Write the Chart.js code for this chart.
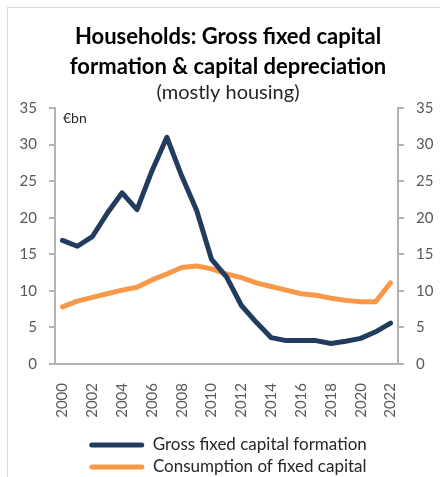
<!DOCTYPE html>
<html>
<head>
<meta charset="utf-8">
<script src="https://cdn.jsdelivr.net/npm/chart.js@4/dist/chart.umd.min.js"></script>
<style>
  html, body { margin: 0; padding: 0; background: #ffffff; }
  #wrap { position: relative; width: 440px; height: 477px; }
</style>
</head>
<body>
<div id="wrap"><canvas id="chart" width="440" height="477"></canvas></div>
<script>
// Households: gross fixed capital formation vs consumption of fixed capital, €bn
const years = ['2000','2001','2002','2003','2004','2005','2006','2007','2008','2009','2010','2011',
               '2012','2013','2014','2015','2016','2017','2018','2019','2020','2021','2022'];
const grossFixedCapitalFormation = [16.9, 16.1, 17.4, 20.6, 23.4, 21.1, 26.4, 31.0, 25.7, 21.0, 14.3, 11.9,
                                    8.0, 5.7, 3.6, 3.2, 3.2, 3.2, 2.8, 3.1, 3.5, 4.4, 5.6];
const consumptionOfFixedCapital = [7.8, 8.6, 9.1, 9.6, 10.1, 10.5, 11.5, 12.3, 13.2, 13.4, 13.0, 12.3,
                                   11.8, 11.1, 10.6, 10.1, 9.6, 9.4, 9.0, 8.7, 8.5, 8.5, 11.1];
const yTicks = [0, 5, 10, 15, 20, 25, 30, 35];

const FONT = "Lato, 'Open Sans', sans-serif";
const NAVY = '#213C5E';
const ORANGE = '#F89848';
const AXIS = '#B3B3B3';
const TICK_TEXT = '#595959';
const PAD_LEFT = 16;

// outer frame and unit label
const framePlugin = {
  id: 'frame',
  beforeDraw(chart) {
    const ctx = chart.ctx;
    ctx.save();
    ctx.fillStyle = '#ffffff';
    ctx.fillRect(0, 0, chart.width, chart.height);
    ctx.strokeStyle = '#D9D9D9';
    ctx.lineWidth = 1;
    ctx.strokeRect(7.5, 7.5, chart.width, chart.height);
    ctx.restore();
  },
  afterDraw(chart) {
    const ctx = chart.ctx;
    const a = chart.chartArea;
    ctx.save();
    ctx.font = `14px ${FONT}`;
    ctx.fillStyle = '#262626';
    ctx.textBaseline = 'middle';
    ctx.textAlign = 'left';
    ctx.fillText('€bn', a.left + 8, a.top + 10);
    ctx.restore();
  }
};

const yScale = (position) => ({
  type: 'linear',
  position,
  min: 0,
  max: 35,
  afterBuildTicks(scale) { scale.ticks = yTicks.map(v => ({ value: v })); },
  afterFit(scale) { scale.width = position === 'left' ? 55 - PAD_LEFT : 42; },
  border: { display: true, color: AXIS, width: 2 },
  grid: { display: true, drawOnChartArea: false, drawTicks: true, tickLength: 6, color: AXIS, lineWidth: 2 },
  ticks: { color: TICK_TEXT, font: { family: FONT, size: 15 }, padding: 12 }
});

new Chart(document.getElementById('chart'), {
  type: 'line',
  data: {
    labels: years,
    datasets: [
      {
        label: 'Gross fixed capital formation',
        data: grossFixedCapitalFormation,
        borderColor: NAVY,
        backgroundColor: NAVY,
        borderWidth: 5,
        pointRadius: 0,
        tension: 0,
        borderJoinStyle: 'round',
        borderCapStyle: 'round',
        yAxisID: 'y'
      },
      {
        label: 'Consumption of fixed capital',
        data: consumptionOfFixedCapital,
        borderColor: ORANGE,
        backgroundColor: ORANGE,
        borderWidth: 5,
        pointRadius: 0,
        tension: 0,
        borderJoinStyle: 'round',
        borderCapStyle: 'round',
        yAxisID: 'y'
      }
    ]
  },
  options: {
    responsive: false,
    animation: false,
    devicePixelRatio: 1,
    layout: { padding: { left: PAD_LEFT, right: 0, top: 0, bottom: 0 } },
    scales: {
      x: {
        type: 'category',
        offset: true,
        afterFit(scale) { scale.height = 67.5; },
        border: { display: true, color: AXIS, width: 2 },
        grid: { display: false, drawTicks: false },
        ticks: {
          autoSkip: false,
          minRotation: 90,
          maxRotation: 90,
          padding: 19,
          color: TICK_TEXT,
          font: { family: FONT, size: 15 },
          callback(value, index) { return index % 2 === 0 ? years[index] : ''; }
        }
      },
      y: yScale('left'),
      y2: yScale('right')
    },
    plugins: {
      title: {
        display: true,
        text: ['Households: Gross fixed capital', 'formation & capital depreciation'],
        color: '#000000',
        font: { family: FONT, size: 22, weight: 'bold', lineHeight: 30 / 22 },
        padding: { top: 22, bottom: 0 }
      },
      subtitle: {
        display: true,
        text: '(mostly housing)',
        color: '#262626',
        font: { family: FONT, size: 20, weight: 'normal', lineHeight: 21.6 / 20 },
        padding: { top: 0, bottom: 4.4 }
      },
      legend: {
        position: 'bottom',
        maxHeight: 45.5,
        labels: {
          color: '#262626',
          font: { family: FONT, size: 17 },
          boxWidth: 55,
          boxHeight: 5,
          padding: 5,
          useBorderRadius: true,
          borderRadius: 2.5,
          generateLabels(chart) {
            return Chart.defaults.plugins.legend.labels.generateLabels(chart).map(item => {
              const ds = chart.data.datasets[item.datasetIndex];
              return Object.assign(item, { fillStyle: ds.borderColor, lineWidth: 0, borderRadius: 2.5 });
            });
          }
        }
      },
      tooltip: { enabled: false }
    }
  },
  plugins: [framePlugin]
});
</script>
</body>
</html>
